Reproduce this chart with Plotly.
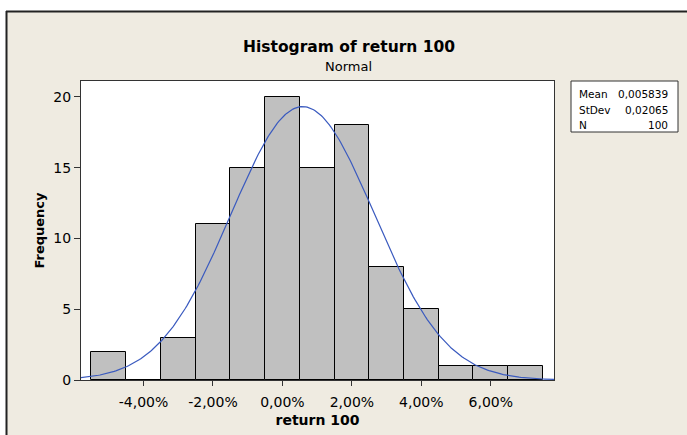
import numpy as np
import plotly.graph_objects as go

# ---- data ----
bin_centers = [-0.05, -0.04, -0.03, -0.02, -0.01, 0.00, 0.01, 0.02, 0.03, 0.04, 0.05, 0.06, 0.07]
counts = [2, 0, 3, 11, 15, 20, 15, 18, 8, 5, 1, 1, 1]
bin_width = 0.01
x_tickvals = [-0.04, -0.02, 0.0, 0.02, 0.04, 0.06]
x_ticktext = ["-4,00%", "-2,00%", "0,00%", "2,00%", "4,00%", "6,00%"]
y_tickvals = [0, 5, 10, 15, 20]
MEAN = 0.005839
STDEV = 0.02065
N = 100
stat_labels = ["Mean", "StDev", "N"]
stat_values = ["0,005839", "0,02065", "100"]

# ---- layout geometry (pixels) ----
W, H = 687, 435
L, R, T, B = 81, 554, 81, 380
x_range = [-0.0580, 0.0782]
y_range = [0, 21.13]

def px(x):
    return (x - L) / (R - L)

def py(y):
    return (B - y) / (B - T)

FONT = "DejaVu Sans"
BEIGE = "#EFEBE1"
DARK = "#333333"

fig = go.Figure()
fig.add_trace(go.Bar(
    x=bin_centers, y=counts, width=bin_width,
    marker=dict(color="#C0C0C0", line=dict(color="#000000", width=1)),
    showlegend=False, hoverinfo="x+y",
))

xs = np.linspace(x_range[0], x_range[1], 300)
ys = N * bin_width * np.exp(-0.5 * ((xs - MEAN) / STDEV) ** 2) / (STDEV * np.sqrt(2 * np.pi))
fig.add_trace(go.Scatter(x=xs, y=ys, mode="lines",
                         line=dict(color="#3A5ABF", width=1.2), showlegend=False))

shapes = [
    # white strips outside the frame
    dict(type="rect", xref="paper", yref="paper", x0=px(-2), x1=px(W + 2), y0=py(-2), y1=py(11),
         fillcolor="white", line=dict(width=0), layer="below"),
    dict(type="rect", xref="paper", yref="paper", x0=px(-2), x1=px(6), y0=py(-2), y1=py(H + 2),
         fillcolor="white", line=dict(width=0), layer="below"),
    dict(type="line", xref="paper", yref="paper", x0=px(6), x1=px(W + 2), y0=py(11.5), y1=py(11.5),
         line=dict(color="#222222", width=2)),
    dict(type="line", xref="paper", yref="paper", x0=px(6.5), x1=px(6.5), y0=py(11), y1=py(H + 2),
         line=dict(color="#222222", width=2)),
    # stats box
    dict(type="rect", xref="paper", yref="paper", x0=px(571), x1=px(678), y0=py(81), y1=py(132),
         fillcolor="white", line=dict(color=DARK, width=1)),
]

annotations = [
    dict(text="<b>Histogram of return 100</b>", x=px(349), y=py(47), xref="paper", yref="paper",
         showarrow=False, font=dict(family=FONT, size=15.5, color="#000"), xanchor="center", yanchor="middle"),
    dict(text="Normal", x=px(348), y=py(66), xref="paper", yref="paper",
         showarrow=False, font=dict(family=FONT, size=13, color="#000"), xanchor="center", yanchor="middle"),
]
row_y = [94, 110, 125]
for lab, val, yy in zip(stat_labels, stat_values, row_y):
    annotations.append(dict(text=lab, x=px(577), y=py(yy), xref="paper", yref="paper", showarrow=False,
                            font=dict(family=FONT, size=10.5, color="#000"), xanchor="left", yanchor="middle"))
    annotations.append(dict(text=val, x=px(670), y=py(yy), xref="paper", yref="paper", showarrow=False,
                            font=dict(family=FONT, size=10.5, color="#000"), xanchor="right", yanchor="middle"))

fig.update_layout(
    width=W, height=H,
    margin=dict(l=L, r=W - R, t=T, b=H - B, pad=0, autoexpand=False),
    paper_bgcolor=BEIGE, plot_bgcolor="white",
    bargap=0,
    shapes=shapes, annotations=annotations,
    font=dict(family=FONT, size=14, color="#000"),
    xaxis=dict(range=x_range, tickvals=x_tickvals, ticktext=x_ticktext, automargin=False,
               ticks="outside", ticklen=5, tickcolor=DARK, showgrid=False, zeroline=False,
               showline=True, linecolor=DARK, linewidth=1, mirror=True, ticklabelstandoff=4,
               title=dict(text="<b>return 100</b>", font=dict(family=FONT, size=14), standoff=6),
               tickfont=dict(family=FONT, size=14)),
    yaxis=dict(range=y_range, tickvals=y_tickvals, automargin=False,
               ticks="outside", ticklen=6, tickcolor=DARK, showgrid=False, zeroline=False,
               showline=True, linecolor=DARK, linewidth=1, mirror=True,
               title=dict(text="<b>Frequency</b>", font=dict(family=FONT, size=13), standoff=5),
               tickfont=dict(family=FONT, size=14)),
)

fig.write_html("out.html", config={"displayModeBar": False},
               post_script="document.body.style.margin='0';")
